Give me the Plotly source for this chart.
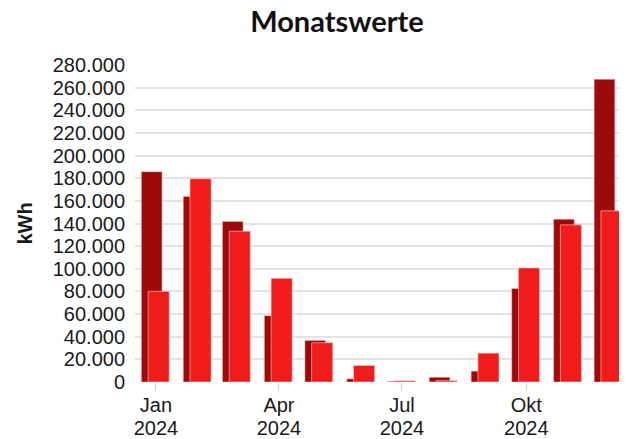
import plotly.graph_objects as go

months = ["2024-01-01", "2024-02-01", "2024-03-01", "2024-04-01", "2024-05-01", "2024-06-01",
          "2024-07-01", "2024-08-01", "2024-09-01", "2024-10-01", "2024-11-01", "2024-12-01"]
series_dark = [185700, 163900, 141800, 58600, 36700, 2800, 600, 4200, 9600, 82500, 143800, 267400]
series_bright = [80100, 179500, 133200, 91600, 34700, 14600, 1000, 1200, 25500, 100700, 138800, 151200]
tick_vals = ["2024-01-01", "2024-04-01", "2024-07-01", "2024-10-01"]
tick_months = ["Jan", "Apr", "Jul", "Okt"]
tick_years = ["2024", "2024", "2024", "2024"]
y_ticks = list(range(0, 280001, 20000))

DAY = 86400000
X_RANGE = ["2023-12-16 12:00", "2024-12-14 12:00"]
W, H = 619, 431

fig = go.Figure()
fig.add_trace(go.Bar(
    x=months, y=series_dark, name="Vorjahr",
    marker=dict(color="#9c0a0a", line=dict(color="rgba(255,200,200,0.5)", width=1)),
    width=[15.3 * DAY] * len(months), offset=-10.8 * DAY,
))
fig.add_trace(go.Bar(
    x=months, y=series_bright, name="Aktuell",
    marker=dict(color="#f01c1c", line=dict(color="rgba(255,200,200,0.6)", width=1)),
    width=[15.6 * DAY] * len(months), offset=-5.8 * DAY,
))
# invisible helper trace for the year row of the x axis
fig.add_trace(go.Scatter(x=tick_vals, y=[0] * len(tick_vals), xaxis="x2", mode="markers",
                         marker=dict(opacity=0), hoverinfo="skip", showlegend=False))

fig.update_layout(
    width=W, height=H,
    margin=dict(l=127, r=0, t=57, b=57),
    barmode="overlay",
    showlegend=False,
    plot_bgcolor="white", paper_bgcolor="white",
    separators=",.",
    font=dict(family="Liberation Sans, Arial, sans-serif", size=20, color="#1a1a1a"),
    title=dict(text="Monatswerte", x=329 / W, xanchor="center", y=1 - 14 / H, yanchor="middle",
               xref="container", yref="container",
               font=dict(family="Lato, sans-serif", size=29, weight="bold", color="#111")),
    xaxis=dict(
        type="date", range=X_RANGE,
        tickvals=tick_vals, ticktext=tick_months,
        ticks="outside", ticklen=8, tickcolor="#d0d0d0",
        showgrid=False, showline=False, zeroline=False, automargin=False,
        ticklabelstandoff=-3,
    ),
    xaxis2=dict(
        type="date", range=X_RANGE, overlaying="x", side="bottom", anchor="y",
        tickvals=tick_vals, ticktext=tick_years, ticks="",
        showgrid=False, showline=False, zeroline=False, automargin=False,
        ticklabelstandoff=32,
    ),
    yaxis=dict(
        range=[0, 280000],
        tickvals=y_ticks, tickformat=",d",
        showgrid=True, gridcolor="#e3e3e3", gridwidth=2,
        zeroline=False, showline=False, automargin=False,
        ticklabelstandoff=9,
        title=dict(text="kWh", font=dict(size=20, weight="bold"), standoff=14),
    ),
)

fig.write_html("out.html")
